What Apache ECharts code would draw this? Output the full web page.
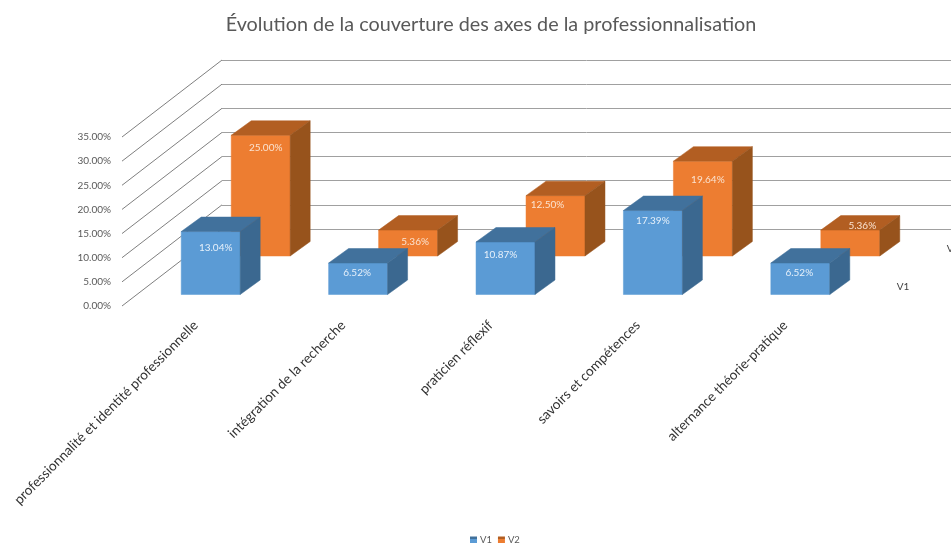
<!DOCTYPE html>
<html>
<head>
<meta charset="utf-8">
<style>
  html, body { margin: 0; padding: 0; background: #fff; }
  #chart { width: 951px; height: 543px; }
</style>
<script src="https://cdn.jsdelivr.net/npm/echarts@6/dist/echarts.min.js"></script>
</head>
<body>
<div id="chart"></div>
<script>
// data
const categories = [
  'professionnalité et identité professionnelle',
  'intégration de la recherche',
  'praticien réflexif',
  'savoirs et compétences',
  'alternance théorie-pratique'
];
const v1Values = [13.04, 6.52, 10.87, 17.39, 6.52];
const v2Values = [25.00, 5.36, 12.50, 19.64, 5.36];
const yTicks = [0, 5, 10, 15, 20, 25, 30, 35];

// fake 3d: how far the back wall and each bar row sit behind the front plane
const wallDepth = [100, -77];
const barDepth = [20, -14.5];
const v1Row = [15, -11.5];
const v2Row = [65, -50];

// data labels are not centred in the original, excel moved them around
const v1LabelShift = [[5, 16], [-1, 10], [-5, 13], [0, 10], [-1, 10]];
const v2LabelShift = [[5, 12], [7, 12], [-8, 9], [5, 19], [12, -4]];

const font = 'Lato, "Open Sans", sans-serif';

function quad(pts, color) {
  return {
    type: 'polygon',
    shape: { points: pts },
    style: { fill: color, stroke: color, lineWidth: 0.5 }
  };
}

function barRenderer(row, shifts, colors, rowName) {
  return function (params, api) {
    const i = api.value(0);
    const v = api.value(1);
    const top = api.coord([i, v]);
    const base = api.coord([i, 0]);
    const w = api.size([1, 0])[0] * 0.4;
    const x0 = top[0] + row[0] - w / 2;
    const x1 = x0 + w;
    const y0 = top[1] + row[1];
    const y1 = base[1] + row[1];
    const dx = barDepth[0];
    const dy = barDepth[1];
    const children = [
      quad([[x0, y0], [x1, y0], [x1, y1], [x0, y1]], colors.front),
      quad([[x0, y0], [x0 + dx, y0 + dy], [x1 + dx, y0 + dy], [x1, y0]], colors.top),
      quad([[x1, y0], [x1 + dx, y0 + dy], [x1 + dx, y1 + dy], [x1, y1]], colors.side),
      {
        type: 'text',
        style: {
          text: v.toFixed(2) + '%',
          x: (x0 + x1) / 2 + shifts[i][0],
          y: y0 + shifts[i][1],
          fill: colors.label,
          font: '10px ' + font,
          align: 'center',
          verticalAlign: 'middle'
        }
      }
    ];
    // depth axis label, only once per row
    if (i === categories.length - 1) {
      children.push({
        type: 'text',
        style: {
          text: rowName,
          x: (x0 + x1) / 2 + 96.5,
          y: y1 - 7.5,
          fill: '#404040',
          font: '10px ' + font,
          align: 'left',
          verticalAlign: 'middle'
        }
      });
    }
    return { type: 'group', children: children };
  };
}

// the lines running from the y axis to the back wall
function sideWall(params, api) {
  const p = api.coord([0, api.value(1)]);
  const x = p[0] - api.size([1, 0])[0] / 2;
  return {
    type: 'line',
    shape: { x1: x, y1: p[1], x2: x + wallDepth[0], y2: p[1] + wallDepth[1] },
    style: { stroke: '#7f7f7f', lineWidth: 1 }
  };
}

// legend swatch: dark top edge over the face colour, like the 3d keys in excel
function swatch(dark, light) {
  return {
    type: 'linear', x: 0, y: 0, x2: 0, y2: 1,
    colorStops: [
      { offset: 0, color: dark },
      { offset: 0.3, color: dark },
      { offset: 0.3, color: light },
      { offset: 1, color: light }
    ]
  };
}

const chart = echarts.init(document.getElementById('chart'));
chart.setOption({
  animation: false,
  backgroundColor: '#fff',
  title: {
    text: 'Évolution de la couverture des axes de la professionnalisation',
    left: 486,
    top: 10,
    textAlign: 'center',
    textStyle: { color: '#595959', fontSize: 19.8, fontWeight: 'normal', fontFamily: font }
  },
  legend: {
    data: [
      { name: 'V1', itemStyle: { color: swatch('#41719C', '#5B9BD5') } },
      { name: 'V2', itemStyle: { color: swatch('#B25E22', '#ED7D31') } }
    ],
    left: 470,
    top: 535,
    padding: 0,
    itemWidth: 7,
    itemHeight: 7,
    itemGap: 6,
    icon: 'rect',
    textStyle: { color: '#595959', fontSize: 9.5, fontFamily: font, padding: [0, 0, 0, -2] }
  },
  grid: [
    { left: 122, top: 137, width: 737, height: 169 }, // front plane
    { left: 222, top: 60, width: 737, height: 169 }   // back wall
  ],
  xAxis: [
    {
      type: 'category',
      gridIndex: 0,
      data: categories,
      axisLine: { show: false },
      axisTick: { show: false },
      axisLabel: {
        interval: 0,
        rotate: 45,
        margin: 17,
        color: '#333333',
        fontSize: 13.6,
        fontFamily: font
      }
    },
    { type: 'category', gridIndex: 1, data: categories, show: false }
  ],
  yAxis: [
    {
      type: 'value',
      gridIndex: 0,
      min: 0,
      max: 35,
      interval: 5,
      axisLine: { show: false },
      axisTick: { show: false },
      splitLine: { show: false },
      axisLabel: {
        margin: 11,
        color: '#595959',
        fontSize: 10,
        fontFamily: font,
        formatter: function (v) { return v.toFixed(2) + '%'; }
      }
    },
    {
      type: 'value',
      gridIndex: 1,
      min: 0,
      max: 35,
      interval: 5,
      axisLine: { show: false },
      axisTick: { show: false },
      axisLabel: { show: false },
      splitLine: { show: true, lineStyle: { color: '#a0a0a0', width: 1 } }
    }
  ],
  series: [
    {
      type: 'custom',
      name: 'wall',
      silent: true,
      renderItem: sideWall,
      data: yTicks.map(function (t) { return [0, t]; })
    },
    {
      type: 'custom',
      name: 'V2',
      renderItem: barRenderer(v2Row, v2LabelShift, { front: '#ED7D31', top: '#B25E22', side: '#97531C', label: '#FBE3D0' }, 'V2'),
      itemStyle: { color: '#ED7D31' },
      data: v2Values.map(function (v, i) { return [i, v]; })
    },
    {
      type: 'custom',
      name: 'V1',
      renderItem: barRenderer(v1Row, v1LabelShift, { front: '#5B9BD5', top: '#41719C', side: '#3B6890', label: '#E6F0FA' }, 'V1'),
      itemStyle: { color: '#5B9BD5' },
      data: v1Values.map(function (v, i) { return [i, v]; })
    }
  ]
});
</script>
</body>
</html>
